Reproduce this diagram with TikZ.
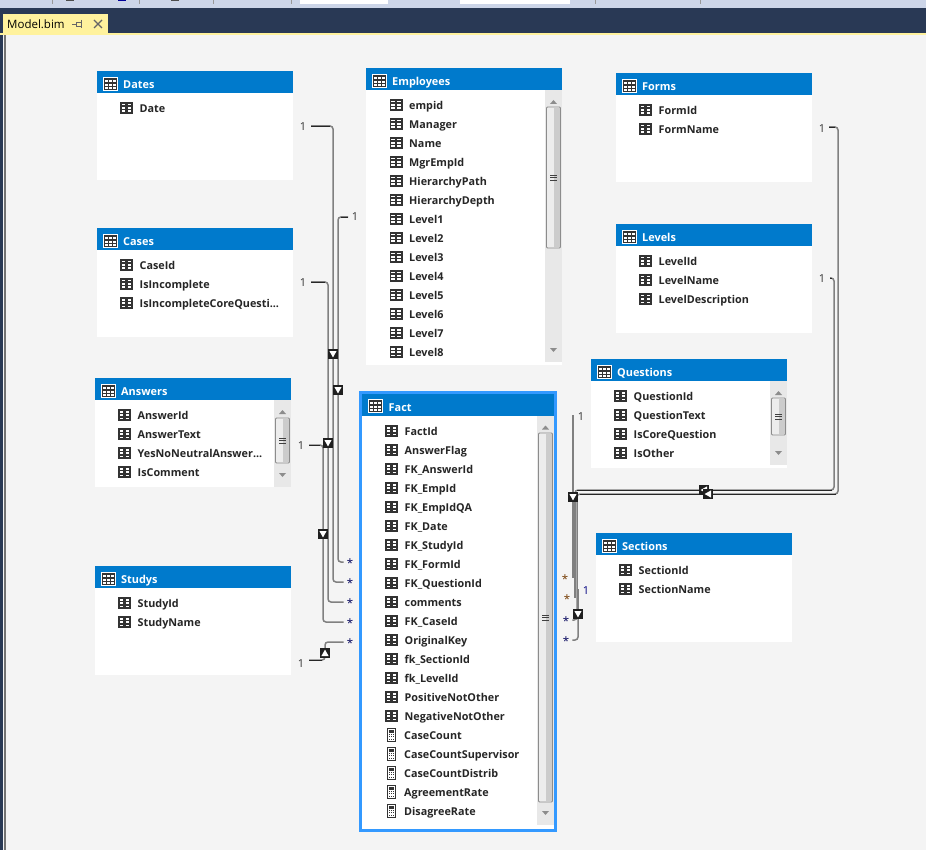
\documentclass[tikz,border=0pt]{standalone}
\usepackage{fontspec}
\setmainfont{Open Sans}
\definecolor{hdr}{HTML}{007ACC}
\definecolor{canvas}{HTML}{F4F4F4}
\definecolor{navy}{HTML}{293955}
\definecolor{tabc}{HTML}{FFF29D}
\definecolor{sel}{HTML}{3399FF}
\definecolor{glyph}{HTML}{333333}
\definecolor{sbar}{HTML}{E8E8E8}
\definecolor{toolb}{HTML}{CCD5E8}
\newcommand{\threedots}{...}
\tikzset{
 tbody/.style={fill=white,draw=none,inner sep=0pt,anchor=north west},
 thead/.style={fill=hdr,draw=none,inner sep=0pt,anchor=north west},
 ttitle/.style={anchor=base west,inner sep=0pt,text=white,font=\fontsize{10.9}{11}\selectfont\bfseries},
 ftext/.style={anchor=base west,inner sep=0pt,text=black!85,font=\fontsize{10.8}{11}\selectfont\bfseries},
 card/.style={inner sep=0pt,font=\fontsize{11}{11}\selectfont,text=black!80},
 cardb/.style={card,text=blue!50!black},
 star/.style={inner ysep=0pt,inner xsep=3pt,text height=11pt,text depth=0pt,font=\fontsize{11.5}{11}\selectfont,text=blue!35!black},
 stard/.style={star,text=orange!45!black},
 relk/.style={draw=black!85,line width=0.9pt,rounded corners=3pt},
 relg/.style={draw=black!50,line width=1.5pt,rounded corners=3pt},
}
% column glyph
\newcommand{\colglyph}[2]{%
 \fill[glyph] (#1-6.5,#2-6) rectangle (#1+6.5,#2+6);
 \foreach \gy in {-3.4,0,3.4}{\fill[white] (#1-4.6,#2+\gy-0.9) rectangle (#1-1.2,#2+\gy+0.9);
 \fill[white] (#1+1.2,#2+\gy-0.9) rectangle (#1+4.6,#2+\gy+0.9);}}
% calculator glyph
\newcommand{\calcglyph}[2]{%
 \fill[white,draw=glyph,line width=1pt] (#1-4,#2-6.5) rectangle (#1+4,#2+6.5);
 \fill[glyph] (#1-2.5,#2-5) rectangle (#1+2.5,#2-2.5);
 \foreach \gy in {-1,1.5,4}{\foreach \gx in {-2.5,-0.5,1.5}{\fill[glyph] (#1+\gx,#2+\gy-0.5) rectangle (#1+\gx+1.1,#2+\gy+0.6);}}}
% header table glyph
\newcommand{\tblglyph}[2]{%
 \fill[white] (#1-7.5,#2-7) rectangle (#1+7.5,#2+7);
 \fill[glyph] (#1-6.5,#2-6) rectangle (#1+6.5,#2+6);
 \foreach \gy in {-2.8,0.8,4.2}{\foreach \gx in {-5.2,-1.4,2.3}{\fill[white] (#1+\gx,#2+\gy-1.2) rectangle (#1+\gx+2.9,#2+\gy+0.9);}}}
% table: name, x, y, w, h, title
\newcommand{\mktable}[6]{%
 \node[tbody,minimum width=#4pt,minimum height=#5pt] (#1) at (#2,#3) {};
 \node[thead,minimum width=#4pt,minimum height=22pt] (#1h) at (#2,#3) {};
 \tblglyph{#2+13.5}{#3+13}
 \node[ttitle] (#1t) at (#2+26,#3+17.5) {#6};}
% field list: x of glyph, first y, dy, list
\newcommand{\mkfields}[4]{%
 \foreach \nm [count=\ii from 0] in {#4}{%
  \pgfmathsetmacro{\yy}{#2+#3*\ii}
  \colglyph{#1}{\yy}
  \node[ftext] at (#1+13,\yy+4.2) {\nm};}}
% scrollbar: x, ytop, ybottom, thumb top, thumb bottom
\newcommand{\mkscroll}[5]{%
 \fill[sbar] (#1,#2) rectangle (#1+17,#3);
 \fill[black!45] (#1+8.5-3.5,#2+14) -- (#1+8.5+3.5,#2+14) -- (#1+8.5,#2+10) -- cycle;
 \fill[black!45] (#1+8.5-3.5,#3-14) -- (#1+8.5+3.5,#3-14) -- (#1+8.5,#3-10) -- cycle;
 \draw[black!45,fill=black!7,line width=0.8pt,rounded corners=1pt] (#1+1.5,#4) rectangle (#1+15.5,#5);
 \fill[black!20] (#1+8.5,#4+1) rectangle (#1+15,#5-1);
 \pgfmathsetmacro{\mm}{(#4+#5)/2}
 \foreach \dd in {-2.5,0,2.5}{\draw[black!75,line width=0.8pt] (#1+5,\mm+\dd) -- (#1+12,\mm+\dd);}}
% marker: x,y,rotation
\newcommand{\mkmark}[3]{%
 \begin{scope}[shift={(#1,#2)},rotate=#3]
 \fill[black!88] (-5,-5) rectangle (5,5);
 \fill[white] (-3.6,-3) -- (3.6,-3) -- (0,3.4) -- cycle;
 \end{scope}}
\begin{document}
\begin{tikzpicture}[x=1pt,y=-1pt]
\useasboundingbox (0,0) rectangle (926,850);
% chrome
\fill[canvas] (0,0) rectangle (926,850);
\fill[navy] (0,8) rectangle (926,34);
\fill[toolb] (0,0) rectangle (926,8);
\fill[white] (300,0) rectangle (388,4);
\fill[white] (460,0) rectangle (570,4);
\foreach \sx in {52,139,213,291,595,700}{\fill[black!40] (\sx,0) rectangle (\sx+1,4);}
\fill[black!70] (66,0) rectangle (74,1.5);
\fill[blue!60!black] (118,0) rectangle (126,1.5);
\fill[black!70] (171,0) rectangle (179,1.5);
\fill[navy] (0,34) rectangle (3,850);
\fill[black!55] (4,34) rectangle (5.5,850);
\fill[tabc] (0,33) rectangle (926,35);
\fill[tabc] (3,14) rectangle (108,35);
\node[anchor=base west,inner sep=0pt,font=\fontsize{11.5}{11.5}\selectfont,text=black] (tab) at (7,29) {Model.bim};
\draw[black!60,line width=0.8pt] (76,22) rectangle (81,26) (72,24) -- (76,24) (81,20) -- (81,28);
\draw[black!60,line width=1.1pt] (94,20) -- (102,28) (102,20) -- (94,28);
% tables
\mktable{dates}{97}{71}{196}{109}{Dates}
\mkfields{126.5}{108}{19}{Date}
\mktable{cases}{97}{228}{196}{109}{Cases}
\mkfields{126.5}{265}{19}{CaseId,IsIncomplete,IsIncompleteCoreQuesti\threedots}
\mktable{answers}{95}{378}{196}{109}{Answers}
\mkfields{124.5}{415}{19}{AnswerId,AnswerText,YesNoNeutralAnswer\threedots,IsComment}
\mkscroll{274}{400}{487}{418}{463}
\mktable{studys}{95}{566}{196}{109}{Studys}
\mkfields{124.5}{603}{19}{StudyId,StudyName}
\mktable{employees}{366}{68}{196}{297}{Employees}
\mkfields{396}{105}{19}{empid,Manager,Name,MgrEmpId,HierarchyPath,HierarchyDepth,Level1,Level2,Level3,Level4,Level5,Level6,Level7,Level8}
\mkscroll{545}{90}{362}{107}{248}
\mktable{forms}{616}{73}{196}{109}{Forms}
\mkfields{645.5}{110}{19}{FormId,FormName}
\mktable{levels}{616}{224}{196}{109}{Levels}
\mkfields{645.5}{261}{19}{LevelId,LevelName,LevelDescription}
\mktable{questions}{591}{359}{196}{109}{Questions}
\mkfields{620.5}{396}{19}{QuestionId,QuestionText,IsCoreQuestion,IsOther}
\mkscroll{770}{381}{465}{398}{435}
\mktable{sections}{596}{533}{196}{109}{Sections}
\mkfields{625.5}{570}{19}{SectionId,SectionName}
% Fact
\node[tbody,minimum width=195pt,minimum height=438pt,draw=sel,line width=3pt,anchor=center] (fact) at (458,611) {};
\node[thead,minimum width=192pt,minimum height=22pt] (facth) at (362,393.5) {};
\tblglyph{375.5}{406}
\node[ttitle] (factt) at (388.5,411.5) {Fact};
\mkfields{391.5}{431}{19}{FactId,AnswerFlag,FK\_AnswerId,FK\_EmpId,FK\_EmpIdQA,FK\_Date,FK\_StudyId,FK\_FormId,FK\_QuestionId,comments,FK\_CaseId,OriginalKey,fk\_SectionId,fk\_LevelId,PositiveNotOther,NegativeNotOther}
\foreach \nm [count=\ii from 0] in {CaseCount,CaseCountSupervisor,CaseCountDistrib,AgreementRate,DisagreeRate}{%
 \pgfmathsetmacro{\yy}{735+19*\ii}
 \calcglyph{391.5}{\yy}
 \node[ftext] at (404,\yy+4.2) {\nm};}
\mkscroll{537}{415.5}{825}{433}{802}
% cardinality labels
\node[card] (c1) at (303,127) {1};
\node[card] (c2) at (355,217) {1};
\node[card] (c3) at (303,283) {1};
\node[card] (c4) at (301,446) {1};
\node[card] (c5) at (301,664) {1};
\node[star] (m1) at (350,562) {*};
\node[star] (m2) at (350,582) {*};
\node[star] (m3) at (350,602) {*};
\node[star] (m4) at (350,622) {*};
\node[star] (m5) at (350,642) {*};
\node[card] (c6) at (581,417) {1};
\node[card] (c7) at (822,129) {1};
\node[card] (c8) at (822,279) {1};
\node[cardb] (c9) at (586,591) {1};
\node[stard] (r1) at (565,578) {*};
\node[stard] (r2) at (567,598) {*};
\node[star] (r3) at (566,620) {*};
\node[star] (r4) at (566,640) {*};
% connectors
\coordinate (e1) at (311,126); \coordinate (e2) at (348,217);
\coordinate (e3) at (311,282); \coordinate (e4) at (309,445);
\coordinate (e5) at (309,660); \coordinate (e7) at (829,127);
\coordinate (e8) at (830,278);
\draw[relg] (e1) -| (333,582) -- (m2.west);
\draw[relg] (e2) -| (338,562) -- (m1.west);
\draw[relg] (e3) -| (328,602) -- (m3.west);
\draw[relg] (e4) -| (323,622) -- (m4.west);
\draw[relg] (m5.west) -| (325,660) -- (e5);
\draw[relg] (573,415) -- (573,578);
\draw[relg] (575,498) -- (575,598);
\draw[relg] (e7) -| (838,494) -- (577,494) -- (577,620) -- (r3.east);
\draw[relg] (e8) -| (834,490) -- (575,490) -- (575,510);
\draw[relg] (578,589) -- (578,640) -- (r4.east);
\draw[relk] (e1) -- (330,126);
\draw[relk] (e2) -- (341,217);
\draw[relk] (e3) -- (325,282);
\draw[relk] (e4) -- (320,445);
\draw[relk] (e5) -- (322,660);
\draw[relk] (e7) -- (835,127);
\draw[relk] (e8) -- (832,278);
\draw[relk] (836,494) -- (580,494);
\draw[relk] (832,490) -- (577,490);
% relationship markers
\mkmark{333}{354}{0}
\mkmark{338}{390}{0}
\mkmark{328}{443}{0}
\mkmark{323}{534}{0}
\mkmark{325}{653}{180}
\mkmark{573}{497}{0}
\mkmark{704}{490}{-90}
\mkmark{708}{494}{-90}
\mkmark{578}{614}{0}
\end{tikzpicture}
\end{document}
